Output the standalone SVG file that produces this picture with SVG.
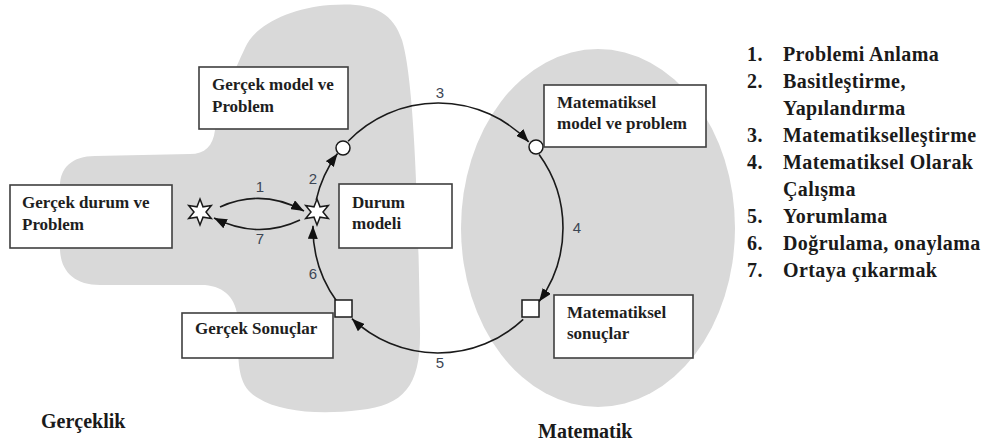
<svg xmlns="http://www.w3.org/2000/svg" width="984" height="445" viewBox="0 0 984 445">
  <style>
    .region { fill: #d9d9d9; stroke: none; }
    .box { fill: #ffffff; stroke: #3f3f3f; stroke-width: 1.6; }
    .btxt { font-family: "Liberation Serif", "Times New Roman", serif; font-weight: bold; font-size: 17px; fill: #1e1e1e; }
    .list { font-family: "Liberation Serif", "Times New Roman", serif; font-weight: bold; font-size: 20px; fill: #1a1a1a; letter-spacing: 0.4px; }
    .area { font-family: "Liberation Serif", "Times New Roman", serif; font-weight: bold; font-size: 20px; fill: #1a1a1a; }
    .num { font-family: "Liberation Sans", Arial, sans-serif; font-size: 15px; fill: #3d4654; text-anchor: middle; }
    .edge { fill: none; stroke: #1a1a1a; stroke-width: 1.6; marker-end: url(#head); }
    .junction { fill: #ffffff; stroke: #1a1a1a; stroke-width: 1.5; }
  </style>
  <defs>
    <marker id="head" markerUnits="userSpaceOnUse" markerWidth="13" markerHeight="10" refX="13" refY="5" orient="auto">
      <path d="M0,0 L13,5 L0,10 Z" fill="#111111"/>
    </marker>
    <polygon id="star" points="0,-13 3,-5.2 11.3,-6.5 6,0 11.3,6.5 3,5.2 0,13 -3,5.2 -11.3,6.5 -6,0 -11.3,-6.5 -3,-5.2"/>
  </defs>

  <!-- background regions: reality (left blob) and mathematics (ellipse) -->
  <g id="regions">
    <path class="region" d="M 245,48 C 255,25 290,8 330,5 C 370,2 392,10 402,40 C 414,80 418,200 420,330 C 421,385 405,405 360,410 C 320,415 280,412 258,398 C 240,388 238,370 238,340 L 238,320 C 236,298 225,287 205,285 L 100,285 C 75,285 61,272 60,250 L 60,186 C 60,168 72,156 95,156 L 190,154 C 205,154 213,146 215,130 C 220,100 235,70 245,48 Z"/>
    <ellipse class="region" cx="598" cy="228" rx="137" ry="179"/>
  </g>

  <!-- modelling cycle connectors -->
  <g id="connectors">
    <path class="edge" d="M 220,207 Q 262,188 304,211"/>
    <path class="edge" d="M 300,220 Q 258,240 214,218"/>
    <path class="edge" d="M 316.2,199.9 A 125,125 0 0 1 337.5,153.6"/>
    <path class="edge" d="M 348.1,141.2 A 125,125 0 0 1 528.7,141.9"/>
    <path class="edge" d="M 539.1,154.5 A 125,125 0 0 1 539.1,301.5"/>
    <path class="edge" d="M 523.2,319.4 A 125,125 0 0 1 351.9,318.7"/>
    <path class="edge" d="M 336.9,301.5 A 125,125 0 0 1 313.0,225.8"/>
  </g>

  <!-- step numbers -->
  <g id="step-numbers">
    <text class="num" x="260" y="192">1</text>
    <text class="num" x="313" y="184">2</text>
    <text class="num" x="440" y="98">3</text>
    <text class="num" x="577" y="233">4</text>
    <text class="num" x="440" y="368">5</text>
    <text class="num" x="313" y="279">6</text>
    <text class="num" x="260" y="244">7</text>
  </g>

  <!-- junction markers on the cycle -->
  <g id="junction-real-situation"><use href="#star" class="junction" x="200" y="212"/></g>
  <g id="junction-situation-model"><use href="#star" class="junction" x="317" y="212"/></g>
  <g id="junction-real-model"><circle class="junction" cx="343" cy="148" r="7"/></g>
  <g id="junction-math-model"><circle class="junction" cx="536" cy="147" r="7"/></g>
  <g id="junction-math-results"><rect class="junction" x="522" y="300" width="17" height="17"/></g>
  <g id="junction-real-results"><rect class="junction" x="335" y="300" width="17" height="17"/></g>

  <!-- labelled boxes -->
  <g id="node-real-model">
    <rect class="box" x="199" y="67" width="149" height="62"/>
    <text class="btxt" x="212" y="90">Gerçek model ve</text>
    <text class="btxt" x="212" y="112">Problem</text>
  </g>
  <g id="node-real-situation">
    <rect class="box" x="10" y="185" width="162" height="63"/>
    <text class="btxt" x="22" y="208">Gerçek durum ve</text>
    <text class="btxt" x="22" y="230">Problem</text>
  </g>
  <g id="node-situation-model">
    <rect class="box" x="339" y="184" width="113" height="64"/>
    <text class="btxt" x="352" y="208">Durum</text>
    <text class="btxt" x="352" y="229">modeli</text>
  </g>
  <g id="node-real-results">
    <rect class="box" x="182" y="313" width="151" height="45"/>
    <text class="btxt" x="195" y="334">Gerçek Sonuçlar</text>
  </g>
  <g id="node-math-model">
    <rect class="box" x="544" y="85" width="162" height="62"/>
    <text class="btxt" x="557" y="108">Matematiksel</text>
    <text class="btxt" x="557" y="129">model ve problem</text>
  </g>
  <g id="node-math-results">
    <rect class="box" x="554" y="295" width="139" height="63"/>
    <text class="btxt" x="567" y="318">Matematiksel</text>
    <text class="btxt" x="567" y="339">sonuçlar</text>
  </g>

  <!-- region captions -->
  <g id="captions">
    <text class="area" x="41" y="428">Gerçeklik</text>
    <text class="area" x="538" y="438">Matematik</text>
  </g>

  <!-- legend of steps -->
  <g id="legend">
    <text class="list" x="747" y="61">1.</text><text class="list" x="783" y="61">Problemi Anlama</text>
    <text class="list" x="747" y="88">2.</text><text class="list" x="783" y="88">Basitleştirme,</text>
    <text class="list" x="783" y="115">Yapılandırma</text>
    <text class="list" x="747" y="142">3.</text><text class="list" x="783" y="142">Matematikselleştirme</text>
    <text class="list" x="747" y="169">4.</text><text class="list" x="783" y="169">Matematiksel Olarak</text>
    <text class="list" x="783" y="196">Çalışma</text>
    <text class="list" x="747" y="223">5.</text><text class="list" x="783" y="223">Yorumlama</text>
    <text class="list" x="747" y="250">6.</text><text class="list" x="783" y="250">Doğrulama, onaylama</text>
    <text class="list" x="747" y="277">7.</text><text class="list" x="783" y="277">Ortaya çıkarmak</text>
  </g>
</svg>
